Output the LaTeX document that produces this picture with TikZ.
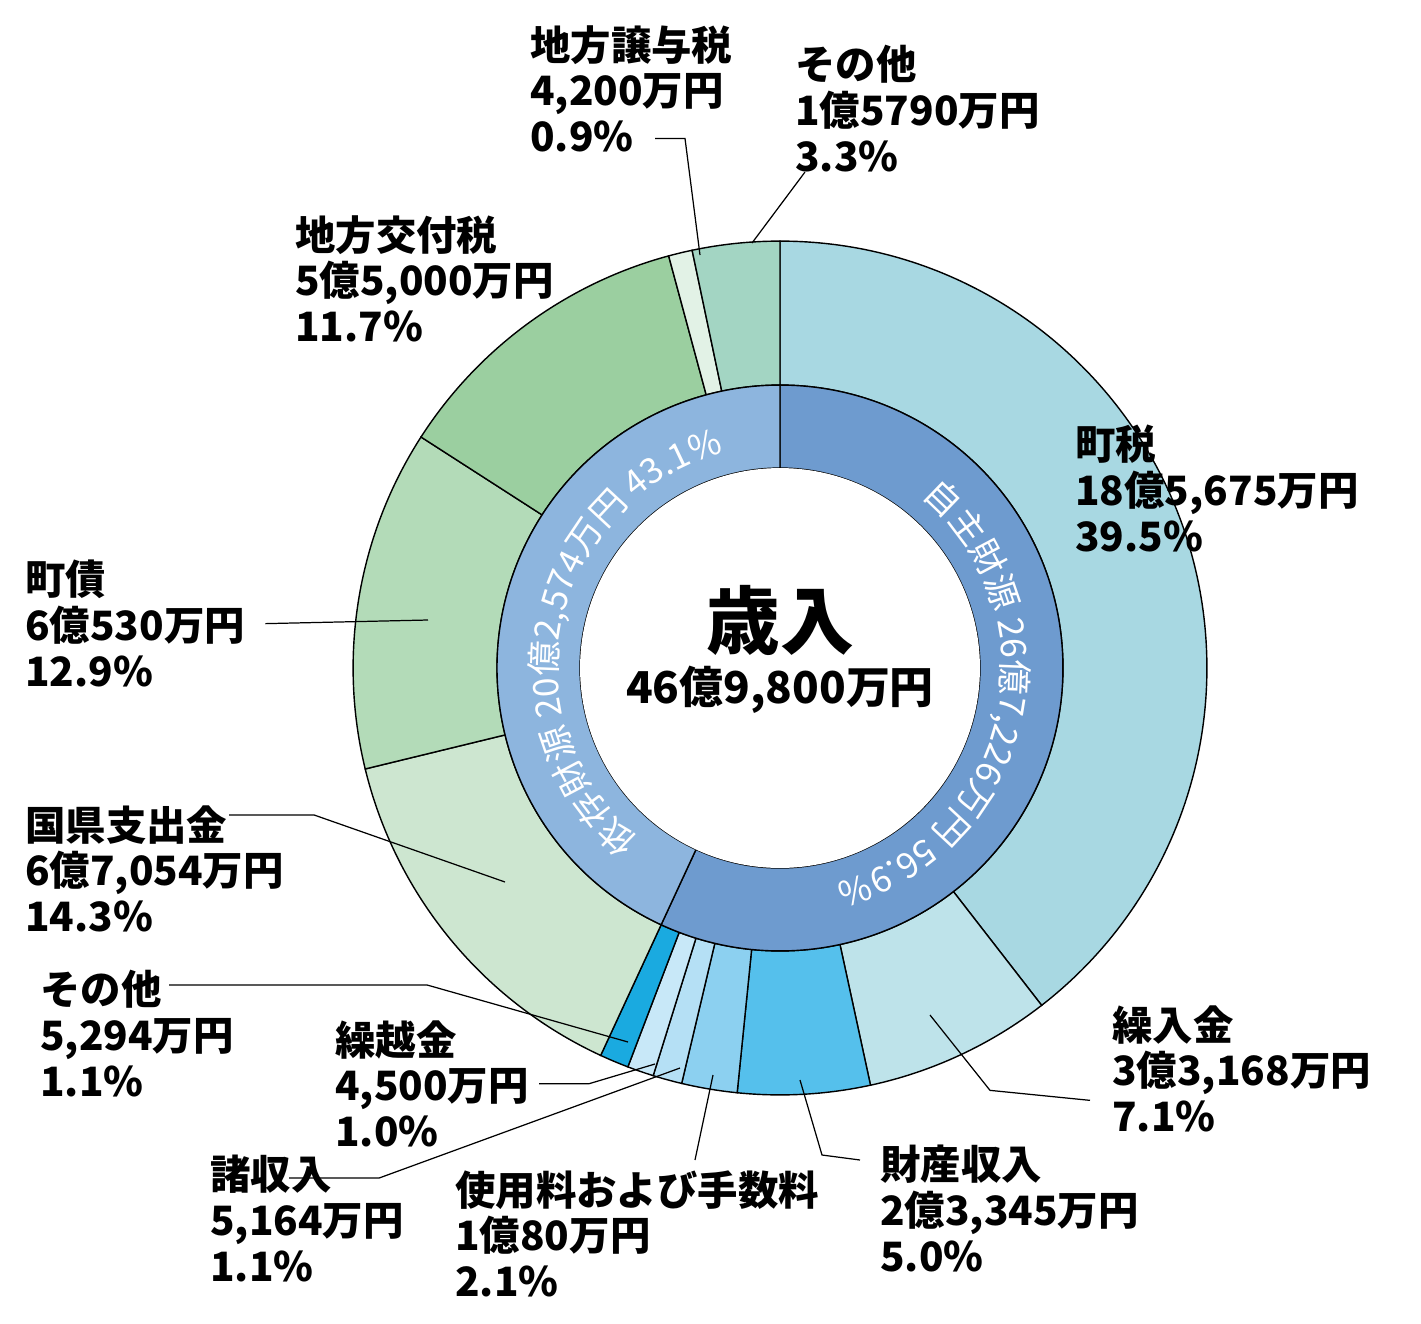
\documentclass[tikz,border=0pt]{standalone}
\usepackage{fontspec}
\setmainfont{Noto Sans CJK JP}
\usepackage{tikz}
\usetikzlibrary{decorations.text}
\definecolor{ctax}{HTML}{A8D8E2}
\definecolor{ctrans}{HTML}{BEE3EA}
\definecolor{cprop}{HTML}{55C0EC}
\definecolor{cfee}{HTML}{8CD0F0}
\definecolor{cmisc}{HTML}{B5E0F5}
\definecolor{ccarry}{HTML}{C8E8F8}
\definecolor{cother}{HTML}{1AAAE0}
\definecolor{cgrant}{HTML}{CDE6D0}
\definecolor{cbond}{HTML}{B3DBB8}
\definecolor{calloc}{HTML}{9BCFA0}
\definecolor{cshare}{HTML}{E2F2E6}
\definecolor{cother2}{HTML}{A3D5C3}
\definecolor{cown}{HTML}{6E9BCF}
\definecolor{cdep}{HTML}{8DB5DE}
\newcommand{\Ro}{8.54cm}
\newcommand{\Rm}{5.66cm}
\newcommand{\Ri}{4.0cm}
\newcommand{\sector}[5]{\fill[#1, draw=black, line width=0.8pt] (#2:#4) arc (#2:#3:#4) -- (#3:#5) arc (#3:#2:#5) -- cycle;}
\tikzset{lbl/.style={anchor=north west, align=left, inner sep=0pt, font=\bfseries\fontsize{23}{26}\selectfont},
  lead/.style={draw, line width=0.7pt}}

\begin{document}
\begin{tikzpicture}[x=0.02cm, y=-0.02cm]
	\useasboundingbox (0,0) rectangle (1421,1323);
	\begin{scope}[shift={(780,668)}, x=1cm, y=1cm]
		% outer ring
		\sector{ctax}{90}{-52.2}{\Ro}{\Rm}
		\sector{ctrans}{-52.2}{-77.76}{\Ro}{\Rm}
		\sector{cprop}{-77.76}{-95.76}{\Ro}{\Rm}
		\sector{cfee}{-95.76}{-103.32}{\Ro}{\Rm}
		\sector{cmisc}{-103.32}{-107.28}{\Ro}{\Rm}
		\sector{ccarry}{-107.28}{-110.88}{\Ro}{\Rm}
		\sector{cother}{-110.88}{-114.84}{\Ro}{\Rm}
		\sector{cgrant}{-114.84}{-166.32}{\Ro}{\Rm}
		\sector{cbond}{-166.32}{-212.76}{\Ro}{\Rm}
		\sector{calloc}{-212.76}{-254.88}{\Ro}{\Rm}
		\sector{cshare}{-254.88}{-258.12}{\Ro}{\Rm}
		\sector{cother2}{-258.12}{-270}{\Ro}{\Rm}
		% inner ring
		\sector{cown}{90}{-114.84}{\Rm}{\Ri}
		\sector{cdep}{-114.84}{-270}{\Rm}{\Ri}
		\fill[white] (0,0) circle (\Ri);
		\path[decorate, decoration={text along path, text align=center,
			text={|\fontsize{20}{20}\selectfont\color{white}|自主財源 26億7{,}226万円 56.9{\%}}}]
			(90:4.45) arc (90:-114.84:4.45);
		\path[decorate, decoration={text along path, text align=center,
			text={|\fontsize{20}{20}\selectfont\color{white}|依存財源 20億2{,}574万円 43.1{\%}}}]
			(245.16:4.45) arc (245.16:90:4.45);
	\end{scope}
	\node[font=\bfseries\fontsize{42}{42}\selectfont] (title) at (780,620) {歳入};
	\node[font=\bfseries\fontsize{25}{25}\selectfont] (total) at (780,690) {46億9,800万円};

	\node[lbl] (share) at (530,25) {地方譲与税\\4,200万円\\0.9\%};
	\node[lbl] (other2) at (795,45) {その他\\1億5790万円\\3.3\%};
	\node[lbl] (alloc) at (295,215) {地方交付税\\5億5,000万円\\11.7\%};
	\node[lbl] (tax) at (1075,425) {町税\\18億5,675万円\\39.5\%};
	\node[lbl] (bond) at (25,560) {町債\\6億530万円\\12.9\%};
	\node[lbl] (grant) at (25,805) {国県支出金\\6億7,054万円\\14.3\%};
	\node[lbl] (other) at (40,970) {その他\\5,294万円\\1.1\%};
	\node[lbl] (carry) at (335,1020) {繰越金\\4,500万円\\1.0\%};
	\node[lbl] (misc) at (210,1155) {諸収入\\5,164万円\\1.1\%};
	\node[lbl] (fee) at (455,1170) {使用料および手数料\\1億80万円\\2.1\%};
	\node[lbl] (prop) at (880,1145) {財産収入\\2億3,345万円\\5.0\%};
	\node[lbl] (trans) at (1112,1005) {繰入金\\3億3,168万円\\7.1\%};

	\coordinate (pshare) at (700,255);
	\coordinate (pother2) at (752,243);
	\coordinate (pbond) at (428,620);
	\coordinate (pgrant) at (505,882);
	\coordinate (pother) at (628,1042);
	\coordinate (pcarry) at (655,1064);
	\coordinate (pmisc) at (680,1068);
	\coordinate (pfee) at (713,1075);
	\coordinate (pprop) at (800,1080);
	\coordinate (ptrans) at (930,1015);

	\draw[lead] (share.south west) ++(125,-14) -- ++(30,0) -- (pshare);
	\draw[lead] (other2.south west) ++(10,0) -- (pother2);
	\draw[lead] (bond.east) ++(20,0) -- (pbond);
	\draw[lead] (grant.north east) ++(-55,10) -- ++(85,0) -- (pgrant);
	\draw[lead] (other.north east) ++(-65,15) -- ++(258,0) -- (pother);
	\draw[lead] (carry.east) ++(10,0) -- ++(50,0) -- (pcarry);
	\draw[lead] (misc.north east) ++(-115,23) -- ++(90,0) -- (pmisc);
	\draw[lead] (695,1160) -- (pfee);
	\draw[lead] (prop.north west) ++(-20,15) -- ++(-38,-5) -- (pprop);
	\draw[lead] (trans.south west) ++(-22,-32) -- ++(-100,-10) -- (ptrans);
\end{tikzpicture}
\end{document}
